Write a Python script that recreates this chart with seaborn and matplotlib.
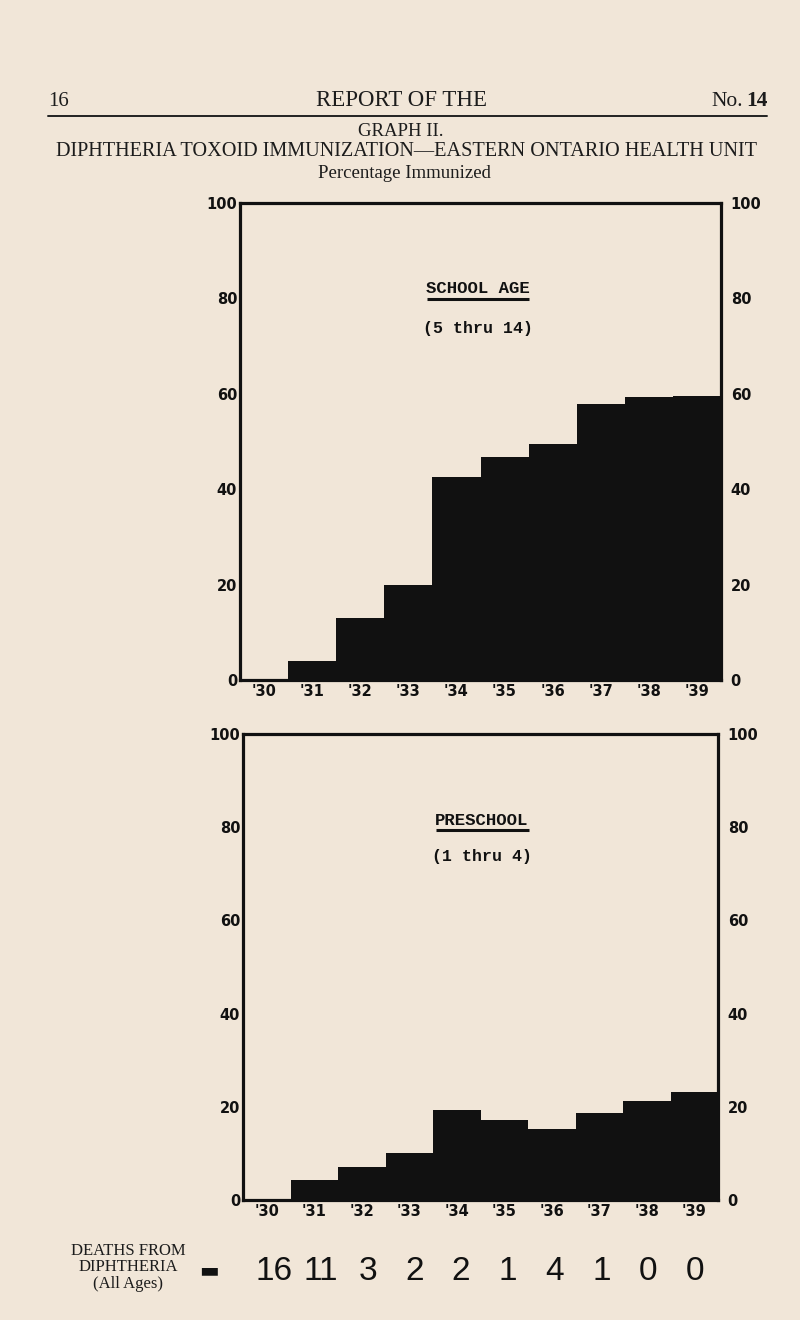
import matplotlib
matplotlib.use("Agg")
import matplotlib.pyplot as plt
from matplotlib.lines import Line2D
import seaborn as sns
import pandas as pd

# ---- data ----
years = ["'30", "'31", "'32", "'33", "'34", "'35", "'36", "'37", "'38", "'39"]
school_age = [0, 4, 13, 20, 42.5, 46.7, 49.5, 57.9, 59.4, 59.6]
preschool = [0, 4.3, 7.1, 10.1, 19.3, 17.2, 15.3, 18.6, 21.3, 23.2]
deaths = [16, 11, 3, 2, 2, 1, 4, 1, 0, 0]
y_ticks = [0, 20, 40, 60, 80, 100]

BG = "#f1e6d8"
INK = "#111111"
SERIF = ["Liberation Serif", "DejaVu Serif"]
MONO = ["Liberation Mono", "DejaVu Sans Mono"]

sns.set_theme(style="white")
plt.rcParams["font.family"] = ["DejaVu Sans"]

W, H = 800, 1320
fig = plt.figure(figsize=(W / 100, H / 100), dpi=100, facecolor=BG)


def px_axes(left, top, right, bottom):
    return fig.add_axes([left / W, 1 - bottom / H, (right - left) / W, (bottom - top) / H])


def panel(box, values, title, subtitle, tpos, ul):
    ax = px_axes(*box)
    df = pd.DataFrame({"year": years, "pct": values})
    sns.barplot(data=df, x="year", y="pct", color=INK, saturation=1, width=1.0,
                edgecolor="none", linewidth=0, ax=ax)
    ax.set_xlim(-0.5, 9.5)
    ax.set_ylim(0, 100)
    ax.set_facecolor(BG)
    ax.set_xlabel("")
    ax.set_ylabel("")
    ax.set_yticks(y_ticks)
    ax.set_yticklabels([str(v) for v in y_ticks])
    ax.tick_params(axis="both", length=0, labelsize=10.5, colors=INK)
    ax.tick_params(axis="y", pad=2)
    ax.tick_params(axis="x", pad=3)
    for lab in ax.get_xticklabels() + ax.get_yticklabels():
        lab.set_fontweight("bold")
    for s in ax.spines.values():
        s.set_visible(True)
        s.set_color(INK)
        s.set_linewidth(2.3)
    ax2 = ax.twinx()
    ax2.set_ylim(0, 100)
    ax2.set_yticks(y_ticks)
    ax2.set_yticklabels([str(v) for v in y_ticks])
    ax2.tick_params(axis="y", length=0, labelsize=10.5, colors=INK, pad=7)
    for lab in ax2.get_yticklabels():
        lab.set_fontweight("bold")
    for s in ax2.spines.values():
        s.set_visible(False)
    ax2.grid(False)
    ax.grid(False)
    ax.text(tpos[0], tpos[1], title, transform=ax.transAxes, ha="center", va="center",
            family=MONO, weight="bold", size=12.5, color=INK)
    ax.text(tpos[0], tpos[2], subtitle, transform=ax.transAxes, ha="center", va="center",
            family=MONO, weight="bold", size=12, color=INK)
    ax.add_line(Line2D([ul[0], ul[1]], [ul[2], ul[2]], transform=ax.transAxes,
                       color=INK, lw=2.2, solid_capstyle="butt"))
    return ax


panel((240, 203, 721, 680), school_age, "SCHOOL AGE", "(5 thru 14)",
      (0.495, 0.82, 0.736), (0.389, 0.601, 0.799))
panel((243, 734, 718, 1200), preschool, "PRESCHOOL", "(1 thru 4)",
      (0.503, 0.814, 0.737), (0.406, 0.602, 0.794))

# ---- page header ----
def ftext(x, y, s, **kw):
    fig.text(x / W, 1 - y / H, s, color="#1c1c1c", family=SERIF, va="center", **kw)

ftext(48, 101, "16", ha="left", size=15)
ftext(401, 101, "REPORT OF THE", ha="center", size=16.5)
ftext(743, 101, "No.", ha="right", size=15.5)
ftext(768, 101, "14", ha="right", size=15.5, weight="bold")
fig.add_artist(Line2D([48 / W, 767 / W], [1 - 116 / H, 1 - 116 / H], color="#222222", lw=1.4))
ftext(401, 132, "GRAPH II.", ha="center", size=13.5)
ftext(407, 152, "DIPHTHERIA TOXOID IMMUNIZATION\u2014EASTERN ONTARIO HEALTH UNIT",
      ha="center", size=14.6)
ftext(404, 173, "Percentage Immunized", ha="center", size=13.5)

# ---- deaths row ----
ftext(128, 1251, "DEATHS FROM", ha="center", size=12)
ftext(128, 1267, "DIPHTHERIA", ha="center", size=12)
ftext(128, 1284, "(All Ages)", ha="center", size=12)
fig.text(209 / W, 1 - 1270 / H, "\u25ac", ha="center", va="center", size=15, color=INK,
         family=["DejaVu Sans"])

dax = px_axes(250.6, 1245, 718.4, 1300)
dax.set_xlim(-0.5, 9.5)
dax.set_ylim(0, 1)
dax.axis("off")
for i, d in enumerate(deaths):
    dax.text(i, 0.51, str(d), ha="center", va="center", size=24, color=INK,
             family=["Liberation Sans"])

fig.savefig("out.png", dpi=100, facecolor=BG)
